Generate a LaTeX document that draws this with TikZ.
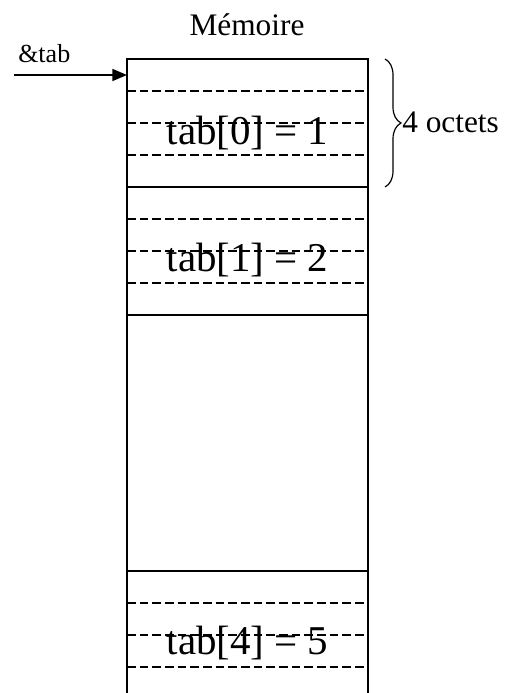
\documentclass[tikz,border=0pt]{standalone}
\usepackage{fontspec}
\setmainfont{Liberation Serif}
\usetikzlibrary{decorations.pathreplacing,arrows.meta}

\begin{document}
\begin{tikzpicture}[x=0.75pt, y=-0.75pt,
    trait/.style={black, line width=1.3pt},
    pointille/.style={black, line width=0.8pt, dash pattern=on 6.5pt off 3pt},
    valeur/.style={anchor=base, inner sep=0pt, font=\rmfamily\fontsize{30.7}{34}\selectfont}]
    \useasboundingbox (0,0) rectangle (516,693);

    % Cadre de la memoire
    \draw[trait] (127,693) -- (127,59) -- (368,59) -- (368,693);
    \foreach \y in {187,315,571}
        \draw[trait] (127,\y) -- (368,\y);

    % Octets (pointilles)
    \foreach \y in {91,123,155,219,251,283,603,635,667}
        \draw[pointille] (127,\y) -- (368,\y);

    % Textes
    \node[anchor=base, inner sep=0pt, font=\rmfamily\fontsize{23.5}{28}\selectfont] (titre) at (247,35) {Mémoire};
    \node[valeur] (case0) at (247.5,144) {tab[0] = 1};
    \node[valeur] (case1) at (247.5,271) {tab[1] = 2};
    \node[valeur] (case4) at (247.5,654) {tab[4] = 5};

    % Pointeur
    \node[anchor=base west, inner sep=0pt, font=\rmfamily\fontsize{19.5}{23}\selectfont] (adresse) at (18,62) {\&tab};
    \coordinate (depart) at (14,75);
    \coordinate (debut) at (127,75);
    \draw[black, line width=1.2pt, -{Triangle[length=11pt, width=9pt]}] (depart) -- (debut);

    % Accolade
    \coordinate (haut) at (385,59);
    \coordinate (bas) at (385,187);
    \draw[black, line width=0.9pt, decorate, decoration={brace, amplitude=12pt}] (haut) -- (bas);
    \node[anchor=base west, inner sep=0pt, font=\rmfamily\fontsize{23.5}{28}\selectfont] (taille) at (402,132) {4 octets};
\end{tikzpicture}
\end{document}
